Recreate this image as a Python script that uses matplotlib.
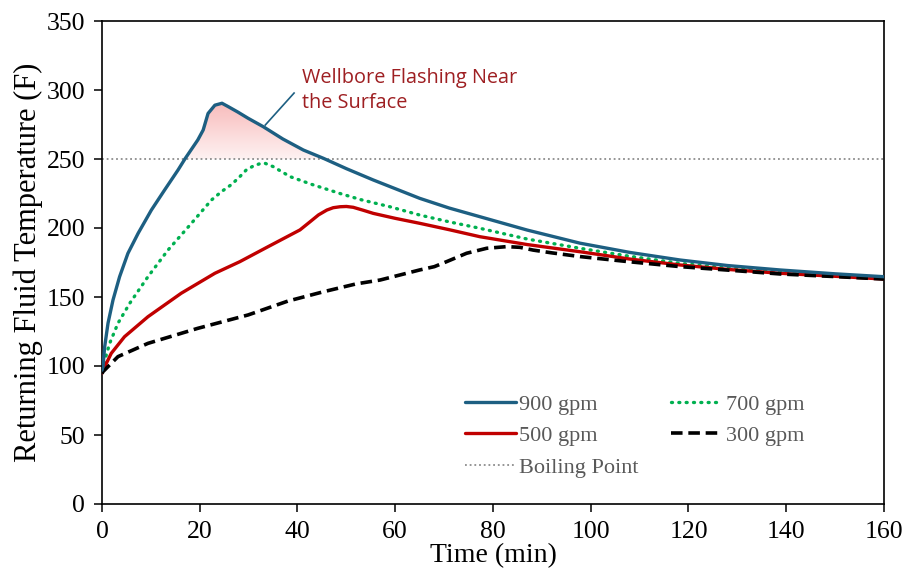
import numpy as np
import matplotlib
matplotlib.use("Agg")
import matplotlib.pyplot as plt
from matplotlib.patches import Polygon

# ---- data ----
t900 = [0, 0.2, 0.55, 1.23, 2.25, 3.6, 5.3, 7.4, 10.1, 12.8, 15.55, 17.05, 19.6, 20.7, 21.7, 23.1, 24.55, 25.8, 27.8, 29.9,
        33, 37, 41.2, 45.3, 50, 55.5, 60, 65, 71, 77.3, 87, 97.8, 108, 118.3, 128, 138.7, 150, 160]
y900 = [97, 99.5, 114, 131, 147.8, 164.7, 181.6, 196.2, 213, 227.5, 242, 250.5, 263.8, 271, 283, 289, 290.4, 288, 284, 279.5,
        273.4, 264.5, 256.5, 250.5, 243, 234.8, 228.5, 221.5, 214.5, 208.2, 198.5, 189, 182.3, 176.8, 172.8, 169.6, 166.8, 164.7]

t700 = [0, 0.55, 1.57, 3.27, 5.67, 9.4, 13.5, 18.3, 22.4, 24.5, 26.5, 28.2, 29.5, 31, 32.3, 33.35, 35, 38.5, 43, 48.7,
        53, 58.9, 65, 71, 77.3, 87, 97.8, 108, 118.3, 128, 138.7, 150, 160]
y700 = [97, 104, 116.4, 131, 145.4, 164.7, 184, 203.4, 220.3, 226.5, 231.5, 237.2, 242, 245, 246.6, 246.9, 244.5, 237.2, 231.5, 225,
        220.5, 215.4, 209.4, 204.5, 199.8, 192, 185.3, 179.5, 174.4, 171, 168.3, 166, 164]

t500 = [0, 0.2, 1.9, 4.6, 9.4, 16.2, 23.1, 28.2, 34, 40.5, 42.6, 44.3, 46, 47.3, 48.7, 50, 51.4, 53.5, 55.5, 60, 65,
        71, 77.3, 87, 97.8, 108, 118.3, 128, 138.7, 150, 160]
y500 = [95, 97, 109.2, 121.2, 135.7, 152.7, 167.2, 175.6, 186.5, 198.6, 204.6, 209.5, 213, 214.7, 215.4, 215.6, 215, 212.8, 210.6, 207, 203.4,
        198.8, 193.7, 188, 182.8, 177.5, 173.2, 170, 167.2, 165, 163]

t300 = [0, 0.2, 3.27, 9.4, 19.6, 29.9, 38, 45.3, 52, 56.9, 65, 68, 70.5, 74.6, 78.7, 82.8, 85.5, 88.2, 92, 97.8,
        108, 118.3, 128, 138.7, 150, 160]
y300 = [94.5, 95.9, 106.8, 116.4, 127.3, 137, 147, 153.8, 159.5, 162.3, 169.6, 172, 175.6, 181.7, 185.3, 186.5, 186, 184, 182, 179.3,
        175.5, 172, 169.5, 166.7, 164.8, 163]

boiling = 250
xticks = [0, 20, 40, 60, 80, 100, 120, 140, 160]
yticks = [0, 50, 100, 150, 200, 250, 300, 350]

serif = "Liberation Serif"
W, H = 904, 573
fig = plt.figure(figsize=(W / 100, H / 100), dpi=100)
ax = fig.add_axes([102 / W, 1 - 504 / H, (884 - 102) / W, (504 - 21) / H])

c_blue = "#1D5F82"
c_green = "#00B050"
c_red = "#C00000"

# gradient fill where 900 gpm exceeds boiling point
tf = np.array(t900, float)
yf = np.array(y900, float)
tt = np.linspace(15, 47, 400)
yy = np.interp(tt, tf, yf)
mask = yy >= boiling
tt, yy = tt[mask], yy[mask]
verts = [(tt[0], boiling)] + list(zip(tt, yy)) + [(tt[-1], boiling)]
poly = Polygon(verts, closed=True, facecolor="none", edgecolor="none")
ax.add_patch(poly)
top_c = np.array([248, 188, 188]) / 255
bot_c = np.array([254, 242, 242]) / 255
g = np.linspace(0, 1, 256)[:, None]
img = (bot_c[None, None, :] * (1 - g[..., None]) + top_c[None, None, :] * g[..., None])
img = np.repeat(img, 2, axis=1)
im = ax.imshow(img, extent=[tt[0], tt[-1], boiling, yy.max()], origin="lower",
               aspect="auto", zorder=1, interpolation="bilinear")
im.set_clip_path(poly)

l1, = ax.plot(t900, y900, color=c_blue, lw=2.4, zorder=4, label="900 gpm",
              solid_joinstyle="round", solid_capstyle="round")
l2, = ax.plot(t700, y700, color=c_green, lw=2.4, ls=(0, (0.3, 1.9)), dash_capstyle="round",
              zorder=3, label="700 gpm")
l3, = ax.plot(t500, y500, color=c_red, lw=2.4, zorder=3, label="500 gpm",
              solid_joinstyle="round", solid_capstyle="round")
l4, = ax.plot(t300, y300, color="black", lw=2.6, ls=(0, (3.2, 1.6)), zorder=3, label="300 gpm")
l5 = ax.axhline(boiling, color="#8C8C8C", lw=1.3, ls=(0, (1, 1.6)), zorder=2, label="Boiling Point")

# annotation
ax.plot([33.4, 39.3], [274.6, 297.8], color=c_blue, lw=1.2, zorder=5)
ax.text(41.0, 299.5, "Wellbore Flashing Near\nthe Surface", color="#9E1F22",
        fontsize=14.3, family="Open Sans", va="center", ha="left", linespacing=1.3)

ax.set_xlim(0, 160)
ax.set_ylim(0, 350)
ax.set_xticks(xticks)
ax.set_yticks(yticks)
ax.set_xticklabels([str(v) for v in xticks], family=serif, fontsize=18.5)
ax.set_yticklabels([str(v) for v in yticks], family=serif, fontsize=18.5)
ax.tick_params(direction="out", length=6, width=1.1, colors="black", pad=6)
for s in ax.spines.values():
    s.set_linewidth(1.2)
ax.set_xlabel("Time (min)", family=serif, fontsize=20, labelpad=0)
ax.set_ylabel("Returning Fluid Temperature (F)", family=serif, fontsize=22, labelpad=3)

# row-major order: 900 | 700 ; 500 | 300 ; Boiling
leg = ax.legend(handles=[l1, l3, l5, l2, l4], ncol=2, frameon=False,
                loc="upper left", bbox_to_anchor=(465 / W, 1 - 394 / H),
                bbox_transform=fig.transFigure,
                prop={"family": serif, "size": 16}, handlelength=2.3,
                handletextpad=0.15, columnspacing=1.45, labelspacing=0.5,
                borderpad=0, borderaxespad=0)
for txt in leg.get_texts():
    txt.set_color("#595959")

fig.savefig("out.png", dpi=100)
